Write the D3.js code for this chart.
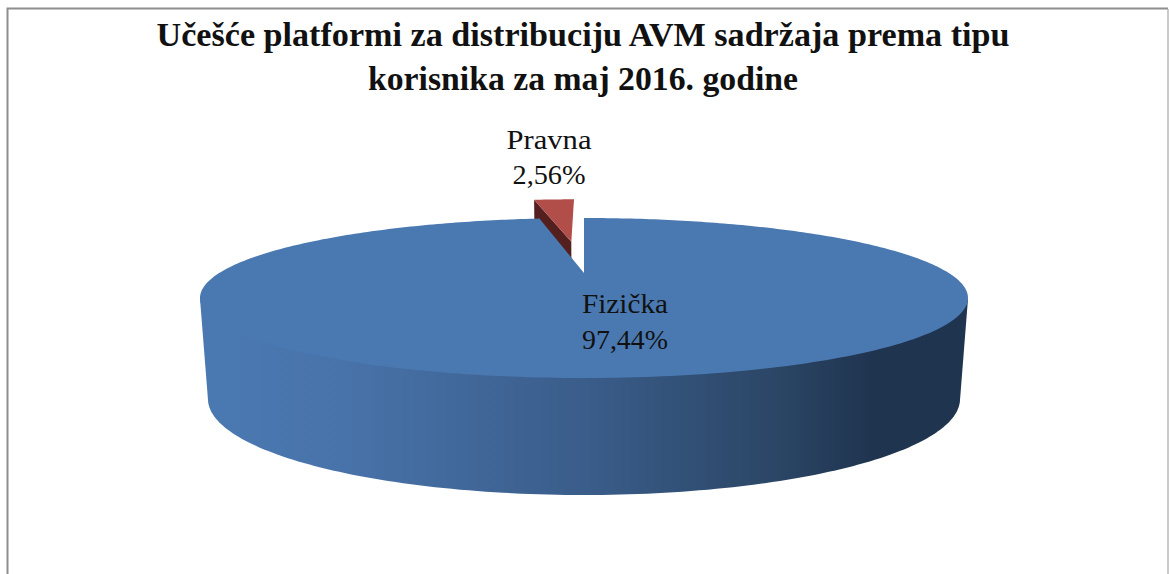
<!DOCTYPE html>
<html>
<head>
<meta charset="utf-8">
<script src="https://cdn.jsdelivr.net/npm/d3@7"></script>
<style>
  html, body { margin: 0; padding: 0; background: #fff; overflow: hidden; }
  text { font-family: "Liberation Serif", serif; fill: #111; }
</style>
</head>
<body>
<div id="chart"></div>
<script>
// Data
const categories = ["Fizička", "Pravna"];
const values = [97.44, 2.56];
const value_labels = ["97,44%", "2,56%"];
const title_lines = ["Učešće platformi za distribuciju AVM sadržaja prema tipu", "korisnika za maj 2016. godine"];

const width = 1169, height = 574;

// Colors
const top_colors = ["#4a79b1", "#b14e4a"];
const wall_color = "#53201f";
const side_stops = [[0, "#4a79b1"], [0.18, "#4873aa"], [0.5, "#3a5d8a"], [0.75, "#2b4666"], [0.88, "#1f344f"], [1, "#1f344f"]];

const svg = d3.select("#chart").append("svg")
  .attr("width", width)
  .attr("height", height)
  .style("display", "block");

// frame, right side is lighter in the original
svg.append("path")
  .attr("d", "M7.5,575V8.5H1168")
  .attr("fill", "none")
  .attr("stroke", "#8e8e8e")
  .attr("stroke-width", 2);
svg.append("path")
  .attr("d", "M1168,9V575")
  .attr("fill", "none")
  .attr("stroke", "#b8b8b8")
  .attr("stroke-width", 1.5);

// title
svg.selectAll(".title")
  .data(title_lines)
  .enter()
  .append("text")
  .attr("class", "title")
  .attr("x", 583)
  .attr("y", (d, i) => 45.5 + i * 44.5)
  .attr("text-anchor", "middle")
  .attr("font-size", 33)
  .attr("font-weight", "bold")
  .attr("textLength", (d, i) => [853, 430][i])
  .attr("lengthAdjust", "spacingAndGlyphs")
  .text(d => d);

// perspective: disk coords (x right, z toward viewer) onto the top and bottom plane
const k = 0.3125;
const plane_top = { cx: 584, cy: 298, rx: 384, ry: 80 };
const plane_bottom = { cx: 584, cy: 399, rx: 376, ry: 96 };

const project = (plane, x, z) => {
  const w = 1 - k * z;
  return [
    plane.cx + x * plane.rx * Math.sqrt(1 - k * k) / w,
    plane.cy - plane.ry * k + z * plane.ry * (1 - k * k) / w
  ];
};
const rim = (angle) => [Math.sin(angle), -Math.cos(angle)];

const pie = d3.pie().value(d => d).sort(null);
const slices = pie(values);
const line = d3.line();
const sample = (a0, a1, n) => d3.range(n + 1).map(i => a0 + (a1 - a0) * i / n);

// side gradient
const grad = svg.append("defs").append("linearGradient")
  .attr("id", "side")
  .attr("gradientUnits", "userSpaceOnUse")
  .attr("x1", 205).attr("x2", 965).attr("y1", 0).attr("y2", 0);
grad.selectAll("stop")
  .data(side_stops)
  .enter()
  .append("stop")
  .attr("offset", d => d[0])
  .attr("stop-color", d => d[1]);

// exploded slice
const red = slices[1];
const explode = 0.5;
const mid = (red.startAngle + red.endAngle) / 2;
const off = rim(mid).map(d => d * explode);
const redOuter = sample(red.startAngle, red.endAngle, 12).map(a => {
  const r = rim(a);
  return [off[0] + r[0], off[1] + r[1]];
});
const redApex = off;

// radial wall of the slice, the big slice hides most of it
svg.append("path")
  .attr("d", line([
    project(plane_top, ...redOuter[0]),
    project(plane_top, ...redApex),
    project(plane_bottom, ...redApex),
    project(plane_bottom, ...redOuter[0])
  ]) + "Z")
  .attr("fill", wall_color);

svg.append("path")
  .attr("d", line(redOuter.concat([redApex]).map(p => project(plane_top, ...p))) + "Z")
  .attr("fill", top_colors[1]);

// side of the big slice, goes up under the top face so no seam shows
const all = sample(0, 2 * Math.PI, 360).map(rim);
const front = all.filter(p => p[1] >= k).sort((a, b) => a[0] - b[0]);
svg.append("path")
  .attr("d", line([project(plane_top, 0, 0), project(plane_top, ...front[0])]
    .concat(front.map(p => project(plane_bottom, ...p)))
    .concat([project(plane_top, ...front[front.length - 1])])) + "Z")
  .attr("fill", "url(#side)");

// top of the big slice
const blue = slices[0];
svg.append("path")
  .attr("d", line(sample(blue.startAngle, blue.endAngle, 360)
    .map(a => project(plane_top, ...rim(a)))
    .concat([project(plane_top, 0, 0)])) + "Z")
  .attr("fill", top_colors[0]);

// labels
const label_pos = [[625, 313, 349], [549, 149, 184]];
const label_len = [[86, 86], [85, 73]];
categories.forEach((c, i) => {
  [c, value_labels[i]].forEach((t, j) => {
    svg.append("text")
      .attr("x", label_pos[i][0])
      .attr("y", label_pos[i][j + 1])
      .attr("text-anchor", "middle")
      .attr("font-size", 28)
      .attr("textLength", label_len[i][j])
      .attr("lengthAdjust", "spacingAndGlyphs")
      .text(t);
  });
});
</script>
</body>
</html>
